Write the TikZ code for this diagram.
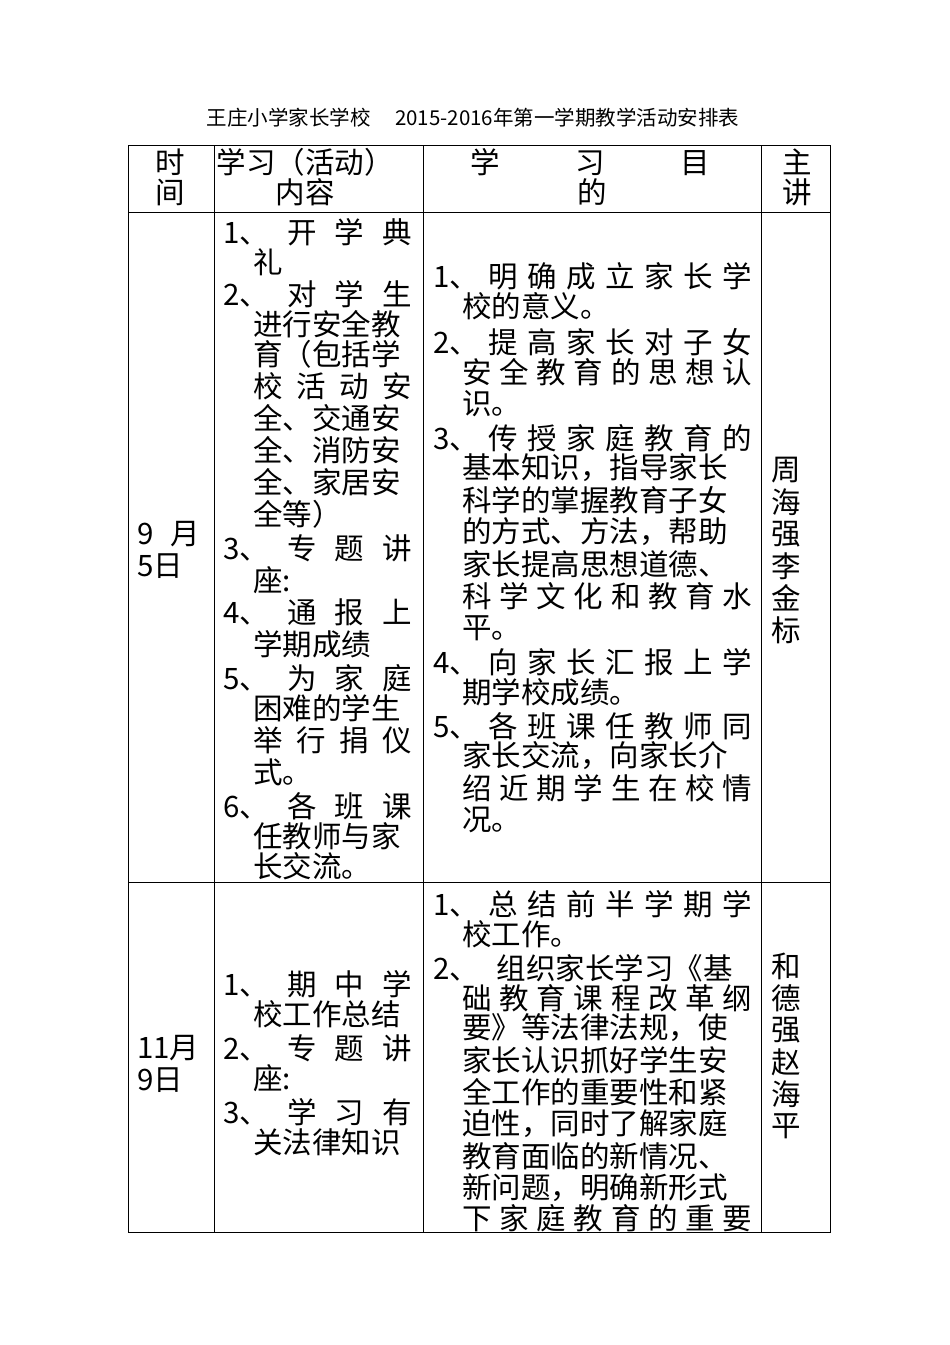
\documentclass[tikz,border=0pt]{standalone}
\usepackage{fontspec}
\newfontfamily\cjk{Noto Sans CJK SC}
\newcommand\bodyf{\cjk\fontsize{29.5}{32}\selectfont}
\newcommand\myl[3]{\node[txt] at (#1,#2) {#3};}
\newcommand\mys[4]{\node[txt] at (#1,#2) {\makebox[#3pt][s]{#4}};}
\begin{document}
\begin{tikzpicture}[x=1pt,y=-1pt,txt/.style={anchor=west,inner sep=0,font=\bodyf},
  rule/.style={line width=1pt,black}]
\useasboundingbox (0,0) rectangle (950,1345);
\node[font=\cjk\fontsize{20.5}{24}\selectfont] (title) at (473,118) {王庄小学家长学校\hspace{1.2em}2015-2016年第一学期教学活动安排表};
% grid
\draw[rule] (128,145) rectangle (830,1232);
\foreach \x in {214,423,761} \draw[rule] (\x,145) -- (\x,1232);
\draw[rule] (128,212) -- (830,212);
\draw[rule] (128,882) -- (830,882);
% header
\node[font=\bodyf] (h1a) at (170,162) {时};
\node[font=\bodyf] (h1b) at (170,192) {间};
\node[font=\bodyf] (h2a) at (305,162) {学习（活动）};
\node[font=\bodyf] (h2b) at (305,192) {内容};
\node[txt] (h3a) at (470,162) {\makebox[240pt][s]{学 习 目}};
\node[font=\bodyf] (h3b) at (592,192) {的};
\node[font=\bodyf] (h4a) at (797,162) {主};
\node[font=\bodyf] (h4b) at (797,192) {讲};
% row 1 col 1
\mys{137}{534}{63}{9 月}
\myl{137}{566}{5日}
% row 1 col 2
\mys{223}{232}{189}{1、 开 学 典}
\myl{253}{262}{礼}
\mys{223}{294}{189}{2、 对 学 生}
\myl{253}{324}{进行安全教}
\myl{253}{354}{育（包括学}
\mys{253}{386}{159}{校 活 动 安}
\myl{253}{418}{全、交通安}
\myl{253}{450}{全、消防安}
\myl{253}{482}{全、家居安}
\myl{253}{514}{全等）}
\mys{223}{548}{189}{3、 专 题 讲}
\myl{253}{580}{座:}
\mys{223}{612}{189}{4、 通 报 上}
\myl{253}{644}{学期成绩}
\mys{223}{678}{189}{5、 为 家 庭}
\myl{253}{708}{困难的学生}
\mys{253}{740}{159}{举 行 捐 仪}
\myl{253}{772}{式。}
\mys{223}{806}{189}{6、 各 班 课}
\myl{253}{836}{任教师与家}
\myl{253}{866}{长交流。}
% row 1 col 3
\mys{433}{276}{319}{1、 明 确 成 立 家 长 学}
\myl{462}{306}{校的意义。}
\mys{433}{342}{319}{2、 提 高 家 长 对 子 女}
\mys{462}{372}{290}{安 全 教 育 的 思 想 认}
\myl{462}{404}{识。}
\mys{433}{438}{319}{3、 传 授 家 庭 教 育 的}
\myl{462}{468}{基本知识，指导家长}
\myl{462}{500}{科学的掌握教育子女}
\myl{462}{532}{的方式、方法，帮助}
\myl{462}{564}{家长提高思想道德、}
\mys{462}{596}{290}{科 学 文 化 和 教 育 水}
\myl{462}{628}{平。}
\mys{433}{662}{319}{4、 向 家 长 汇 报 上 学}
\myl{462}{692}{期学校成绩。}
\mys{433}{726}{319}{5、 各 班 课 任 教 师 同}
\myl{462}{756}{家长交流，向家长介}
\mys{462}{788}{290}{绍 近 期 学 生 在 校 情}
\myl{462}{820}{况。}
% row 1 col 4
\foreach \c [count=\i] in {周,海,强,李,金,标}
  \node[font=\bodyf] (sa\i) at (786,{438+32*\i}) {\c};
% row 2 col 1
\myl{137}{1048}{11月}
\myl{137}{1080}{9日}
% row 2 col 2
\mys{223}{984}{189}{1、 期 中 学}
\myl{253}{1014}{校工作总结}
\mys{223}{1048}{189}{2、 专 题 讲}
\myl{253}{1078}{座:}
\mys{223}{1112}{189}{3、 学 习 有}
\myl{253}{1142}{关法律知识}
% row 2 col 3
\mys{433}{904}{319}{1、 总 结 前 半 学 期 学}
\myl{462}{934}{校工作。}
\myl{433}{968}{2、\hspace{0.6em}组织家长学习《基}
\mys{462}{998}{290}{础 教 育 课 程 改 革 纲}
\myl{462}{1028}{要》等法律法规，使}
\myl{462}{1060}{家长认识抓好学生安}
\myl{462}{1092}{全工作的重要性和紧}
\myl{462}{1124}{迫性，同时了解家庭}
\myl{462}{1156}{教育面临的新情况、}
\myl{462}{1188}{新问题，明确新形式}
\mys{462}{1218}{290}{下 家 庭 教 育 的 重 要}
% row 2 col 4
\foreach \c [count=\i] in {和,德,强,赵,海,平}
  \node[font=\bodyf] (sb\i) at (786,{934+32*\i}) {\c};
\end{tikzpicture}
\end{document}
